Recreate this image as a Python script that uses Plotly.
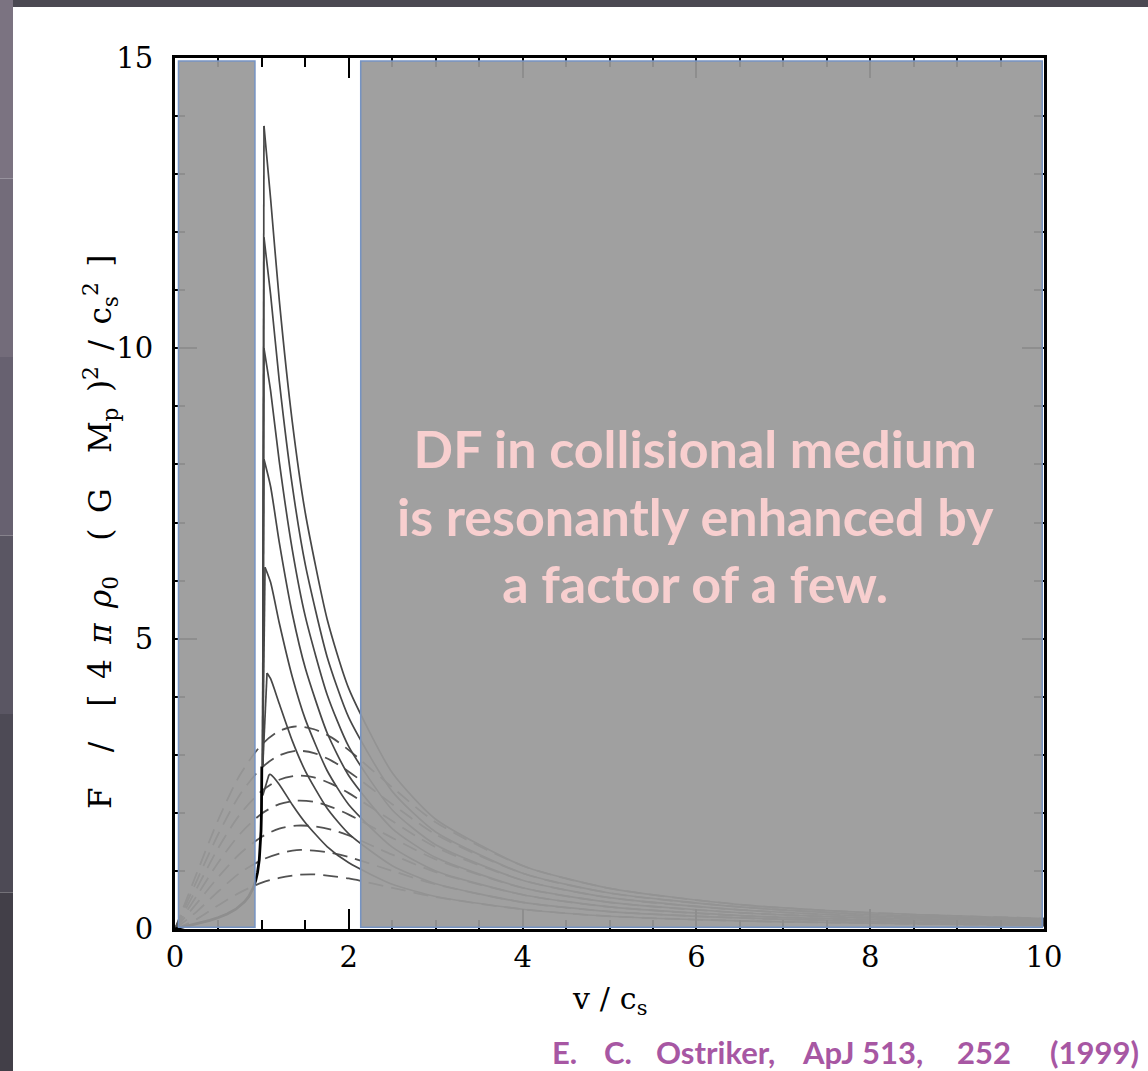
import plotly.graph_objects as go

# ---------------- data ----------------
# gaseous medium, subsonic branch
mach_sub = [0, 0.1, 0.2, 0.3, 0.4, 0.5, 0.6, 0.7, 0.8, 0.85, 0.9, 0.93, 0.95,
            0.97, 0.98, 0.99, 0.995, 0.998, 0.999]
force_sub = [0, 0.034, 0.068, 0.106, 0.148, 0.197, 0.259, 0.341, 0.467, 0.562,
             0.706, 0.842, 0.977, 1.193, 1.372, 1.691, 2.02, 2.465, 2.80]

# gaseous medium, supersonic branch (one curve per time)
mach_sup = [1.1, 1.2, 1.35, 1.5, 1.75, 2.0, 2.5, 3.0, 4.0, 5.0, 6.5, 8.0, 10.0]
rise_x = [1.008, 1.008, 1.008, 1.008, 1.008, 1.010, 1.010]
rise_y = [2.8, 2.8, 2.8, 2.8, 2.8, 2.8, 2.3]
peak_x = [1.024, 1.024, 1.024, 1.024, 1.036, 1.059, 1.082]
peak_y = [13.83, 11.91, 10.00, 8.09, 6.23, 4.41, 2.66]
sup_16 = [12.58, 10.83, 8.73, 7.16, 5.34, 4.14, 2.69, 1.89, 1.09, 0.70, 0.42, 0.28, 0.18]
sup_14 = [10.93, 9.44, 7.63, 6.27, 4.69, 3.64, 2.37, 1.67, 0.96, 0.62, 0.38, 0.25, 0.16]
sup_12 = [9.27, 8.05, 6.53, 5.38, 4.04, 3.14, 2.05, 1.45, 0.84, 0.54, 0.33, 0.22, 0.14]
sup_10 = [7.62, 6.66, 5.43, 4.49, 3.38, 2.64, 1.73, 1.23, 0.71, 0.46, 0.28, 0.19, 0.12]
sup_8 = [5.97, 5.27, 4.34, 3.61, 2.73, 2.14, 1.41, 1.00, 0.59, 0.38, 0.23, 0.16, 0.10]
sup_6 = [4.31, 3.88, 3.24, 2.72, 2.08, 1.64, 1.09, 0.78, 0.46, 0.30, 0.19, 0.13, 0.08]
sup_4 = [2.66, 2.49, 2.14, 1.83, 1.42, 1.14, 0.77, 0.56, 0.34, 0.22, 0.14, 0.10, 0.06]
sup_curves = [sup_16, sup_14, sup_12, sup_10, sup_8, sup_6, sup_4]

# collisionless medium (dashed)
mach_col = [0, 0.25, 0.5, 0.75, 1.0, 1.2, 1.4, 1.6, 1.8, 2.0, 2.5, 3.0, 4.0, 5.0, 6.5, 8.0, 10.0]
col_4 = [0, 0.17, 0.41, 0.63, 0.80, 0.88, 0.93, 0.94, 0.91, 0.87, 0.71, 0.55, 0.34, 0.22, 0.14, 0.10, 0.06]
col_6 = [0, 0.30, 0.65, 0.97, 1.19, 1.30, 1.36, 1.35, 1.31, 1.24, 1.00, 0.77, 0.46, 0.30, 0.19, 0.13, 0.08]
col_8 = [0, 0.44, 0.90, 1.30, 1.59, 1.73, 1.78, 1.77, 1.71, 1.61, 1.28, 0.98, 0.59, 0.38, 0.23, 0.16, 0.10]
col_10 = [0, 0.57, 1.15, 1.64, 1.99, 2.15, 2.21, 2.19, 2.10, 1.97, 1.57, 1.20, 0.71, 0.46, 0.28, 0.19, 0.12]
col_12 = [0, 0.70, 1.40, 1.98, 2.38, 2.57, 2.64, 2.61, 2.50, 2.34, 1.86, 1.41, 0.84, 0.54, 0.33, 0.22, 0.14]
col_14 = [0, 0.83, 1.64, 2.32, 2.78, 2.99, 3.07, 3.03, 2.90, 2.71, 2.15, 1.63, 0.96, 0.62, 0.38, 0.25, 0.16]
col_16 = [0, 0.96, 1.89, 2.66, 3.18, 3.41, 3.49, 3.44, 3.30, 3.08, 2.44, 1.84, 1.09, 0.70, 0.42, 0.28, 0.18]
col_curves = [col_16, col_14, col_12, col_10, col_8, col_6, col_4]

# shaded bands (masked ranges of v/c_s)
band_left = [0.04, 0.92]
band_right = [2.137, 9.98]
band_y = [0.03, 14.95]

x_ticks = [0, 2, 4, 6, 8, 10]
y_ticks = [0, 5, 10, 15]

note_lines = ["DF in collisional medium", "is resonantly enhanced by", "a factor of a few."]
citation_words = ["E.", "C.", "Ostriker,", "ApJ 513,", "252", "(1999)"]
citation_left_px = [550, 602, 654, 800, 955, 1048]

sp = "\u2002"
y_title = ("F" + sp + "\u00a0\u00a0/" + sp + "\u00a0\u00a0[" + sp + "4" + sp + "<i>π</i>" + sp
           + "<i>ρ</i><sub>0</sub>" + sp + "\u00a0\u00a0(" + sp + "G" + sp + "\u00a0\u00a0M<sub>p</sub>"
           + sp + ")<sup>2</sup>" + sp + "/" + sp + "c<sub>s</sub><sup>2</sup>" + sp + "]")
x_title = "v" + "\u2004" + "/" + "\u2004" + "c<sub>s</sub>"

# ---------------- figure ----------------
fig = go.Figure()

for yy in col_curves:
    fig.add_trace(go.Scatter(x=mach_col, y=yy, mode="lines",
                             line=dict(color="#525252", width=1.8, dash="15px,8px",
                                       shape="spline", smoothing=0.8),
                             hoverinfo="skip", showlegend=False))

for i, yy in enumerate(sup_curves):
    fig.add_trace(go.Scatter(x=[rise_x[i], peak_x[i]], y=[rise_y[i], peak_y[i]], mode="lines",
                             line=dict(color="#474747", width=1.7),
                             hoverinfo="skip", showlegend=False))
    fig.add_trace(go.Scatter(x=[peak_x[i]] + mach_sup, y=[peak_y[i]] + yy, mode="lines",
                             line=dict(color="#474747", width=1.7, shape="spline", smoothing=0.6),
                             hoverinfo="skip", showlegend=False))

fig.add_trace(go.Scatter(x=mach_sub, y=force_sub, mode="lines",
                         line=dict(color="#000000", width=2.8),
                         hoverinfo="skip", showlegend=False))

W, H = 1148, 1071
L, R, T, B = 175, 1044, 58, 929


def px_x(p):
    return (p - L) / (R - L)


def px_y(p):
    return (B - p) / (B - T)


shapes = []
# slide background strips
shapes.append(dict(type="rect", xref="paper", yref="paper", x0=px_x(-5), x1=px_x(W + 5),
                   y0=px_y(7), y1=px_y(-5),
                   fillcolor="#4b4952", line=dict(width=0), layer="below"))
strip_cols = ["#7b7381", "#736c7a", "#676170", "#5a5663", "#4d4a55", "#423f48"]
n = len(strip_cols)
for k, c in enumerate(strip_cols):
    shapes.append(dict(type="rect", xref="paper", yref="paper",
                       x0=px_x(-5), x1=px_x(13),
                       y0=px_y((k + 1) * H / n + (5 if k == n - 1 else 0)),
                       y1=px_y(k * H / n - (5 if k == 0 else 0)),
                       fillcolor=c, line=dict(width=0), layer="below"))
# grey masks over the plot
for xr in (band_left, band_right):
    shapes.append(dict(type="rect", xref="x", yref="y", x0=xr[0], x1=xr[1],
                       y0=band_y[0], y1=band_y[1],
                       fillcolor="rgba(153,153,153,0.93)",
                       line=dict(color="#7593c3", width=1.5), layer="above"))

serif = "DejaVu Serif"
annotations = [
    dict(xref="paper", yref="paper", x=px_x(100), y=px_y(532), xanchor="center", yanchor="middle",
         text=y_title, textangle=-90, showarrow=False,
         font=dict(family=serif, size=31, color="black")),
    dict(xref="paper", yref="paper", x=px_x(609), y=px_y(1000), xanchor="center", yanchor="middle",
         text=x_title, showarrow=False,
         font=dict(family=serif, size=30, color="black")),
    dict(xref="paper", yref="paper", x=px_x(695), y=px_y(515), xanchor="center", yanchor="middle",
         text="<br>".join(note_lines), showarrow=False, align="center",
         font=dict(family="Lato", size=52, color="#f8cfcf", weight="bold")),
]
for word, lp in zip(citation_words, citation_left_px):
    annotations.append(dict(xref="paper", yref="paper", x=px_x(lp), y=px_y(1052),
                            xanchor="left", yanchor="middle", text=word, showarrow=False,
                            font=dict(family="Lato", size=31, color="#a757a3", weight="bold")))

fig.update_layout(
    width=W, height=H,
    margin=dict(l=L, r=W - R, t=T, b=H - B, pad=0),
    paper_bgcolor="white", plot_bgcolor="white",
    shapes=shapes, annotations=annotations, showlegend=False,
)
fig.update_xaxes(range=[0, 10], tickvals=x_ticks, ticks="inside", ticklen=20, tickwidth=2,
                 tickcolor="black", showline=True, linewidth=3, linecolor="black",
                 mirror="ticks", showgrid=False, zeroline=False,
                 minor=dict(dtick=0.5, tick0=0, ticks="inside", ticklen=9, tickwidth=2,
                            tickcolor="black", showgrid=False),
                 tickfont=dict(family=serif, size=29, color="black"))
fig.update_yaxes(range=[0, 15], tickvals=y_ticks, ticks="inside", ticklen=22, tickwidth=2,
                 tickcolor="black", showline=True, linewidth=3, linecolor="black",
                 mirror="ticks", showgrid=False, zeroline=False, ticklabelstandoff=13,
                 minor=dict(dtick=1, tick0=0, ticks="inside", ticklen=10, tickwidth=2,
                            tickcolor="black", showgrid=False),
                 tickfont=dict(family=serif, size=29, color="black"))

fig.write_html("out.html", config={"displayModeBar": False},
               post_script="document.body.style.margin='0';")
